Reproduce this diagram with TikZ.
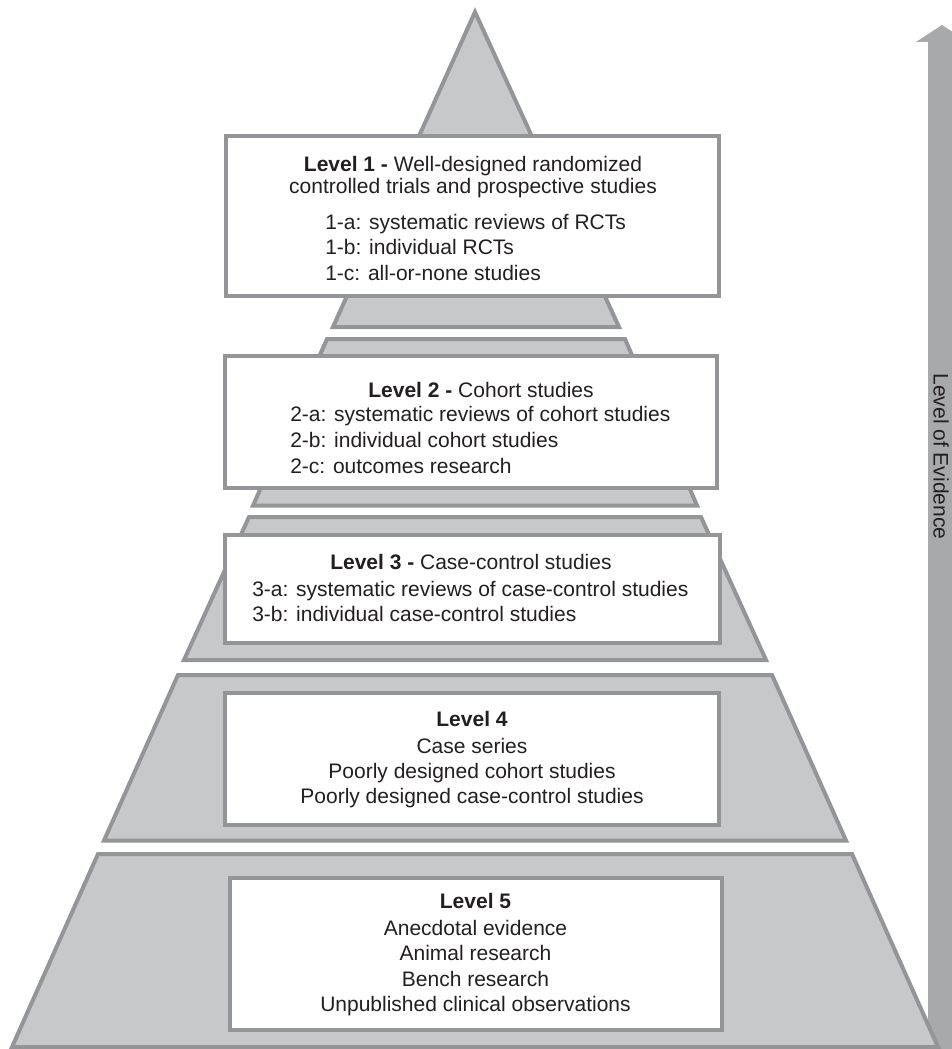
\documentclass[tikz,border=0pt]{standalone}
\usepackage{fontspec}
\setmainfont{Liberation Sans}
\usetikzlibrary{fit}
\definecolor{slicefill}{RGB}{199,200,202}
\definecolor{slicedraw}{RGB}{147,149,152}
\definecolor{arrowgray}{RGB}{167,169,172}
\definecolor{ink}{RGB}{35,31,32}

\begin{document}
\begin{tikzpicture}[x=0.75pt,y=-0.75pt,
  slice/.style={fill=slicefill, draw=slicedraw, line width=3pt, line join=miter},
  levelbox/.style={rectangle, fill=white, draw=slicedraw, line width=3pt, inner sep=0pt},
  txt/.style={font=\fontsize{15.75}{19}\selectfont, text=ink, inner sep=0pt},
  ]
\useasboundingbox (0,0) rectangle (952,1049);
\clip (0,0) rectangle (952,1049);

% evidence arrow along the right margin
\fill[arrowgray] (928,1060) -- (928,42) -- (916,42) -- (942,25) -- (968,42)
  -- (956,42) -- (956,1060) -- cycle;
\node[txt, rotate=-90] (evidence) at (941,456.5) {Level of Evidence};

% pyramid slices, top to bottom
\draw[slice] (475,12) -- (619,327) -- (333,327) -- cycle;
\draw[slice] (327,339) -- (625,339) -- (697,505.5) -- (253,505.5) -- cycle;
\draw[slice] (249,517) -- (701,517) -- (766,660) -- (184,660) -- cycle;
\draw[slice] (178,675) -- (772,675) -- (846,840.5) -- (104,840.5) -- cycle;
\draw[slice] (98,854) -- (852,854) -- (938,1047) -- (12,1047) -- cycle;

% level boxes
\node[levelbox, fit={(226,136) (719,295.5)}] (box1) {};
\node[levelbox, fit={(224.5,355.5) (717,488)}] (box2) {};
\node[levelbox, fit={(224.5,535) (720,643)}] (box3) {};
\node[levelbox, fit={(225,693) (719,824.5)}] (box4) {};
\node[levelbox, fit={(230,878) (722,1029.5)}] (box5) {};

% level 1
\node[txt, anchor=base] (l1h1) at (473,171.5) {\textbf{Level 1 -} Well-designed randomized};
\node[txt, anchor=base] (l1h2) at (473,193.5) {controlled trials and prospective studies};
\node[txt, anchor=base west] (l1a) at (325,229) {1-a: systematic reviews of RCTs};
\node[txt, anchor=base west] (l1b) at (325,254.5) {1-b: individual RCTs};
\node[txt, anchor=base west] (l1c) at (325,280) {1-c: all-or-none studies};

% level 2
\node[txt, anchor=base] (l2h) at (481,397) {\textbf{Level 2 -} Cohort studies};
\node[txt, anchor=base west] (l2a) at (290,421.5) {2-a: systematic reviews of cohort studies};
\node[txt, anchor=base west] (l2b) at (290,447) {2-b: individual cohort studies};
\node[txt, anchor=base west] (l2c) at (290,473) {2-c: outcomes research};

% level 3
\node[txt, anchor=base west] (l3h) at (330,569) {\textbf{Level 3 -} Case-control studies};
\node[txt, anchor=base west] (l3a) at (252,596) {3-a: systematic reviews of case-control studies};
\node[txt, anchor=base west] (l3b) at (252,621) {3-b: individual case-control studies};

% level 4
\node[txt, anchor=base] (l4h) at (472,726) {\textbf{Level 4}};
\node[txt, anchor=base] (l4a) at (472,753) {Case series};
\node[txt, anchor=base] (l4b) at (472,778.5) {Poorly designed cohort studies};
\node[txt, anchor=base] (l4c) at (472,803.5) {Poorly designed case-control studies};

% level 5
\node[txt, anchor=base] (l5h) at (475.5,908) {\textbf{Level 5}};
\node[txt, anchor=base] (l5a) at (475.5,935) {Anecdotal evidence};
\node[txt, anchor=base] (l5b) at (475.5,960) {Animal research};
\node[txt, anchor=base] (l5c) at (475.5,986) {Bench research};
\node[txt, anchor=base] (l5d) at (475.5,1011) {Unpublished clinical observations};
\end{tikzpicture}
\end{document}
